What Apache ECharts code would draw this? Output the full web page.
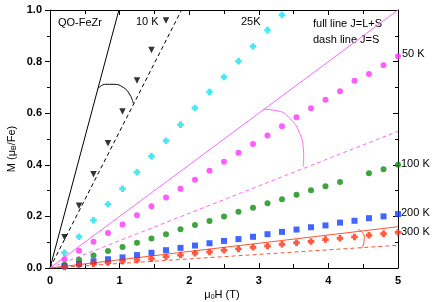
<!DOCTYPE html>
<html><head><meta charset="utf-8">
<script src="https://cdn.jsdelivr.net/npm/echarts@6/dist/echarts.min.js"></script>
<style>html,body{margin:0;padding:0;background:#fff}#c{width:436px;height:302px}</style>
</head><body><div id="c"></div>
<script>
// Field values (T)
var fields = [0.208, 0.417, 0.625, 0.833, 1.042, 1.25, 1.458, 1.667, 1.875, 2.083, 2.292, 2.5,
              2.708, 2.917, 3.125, 3.333, 3.542, 3.75, 3.958, 4.167, 4.375, 4.583, 4.792, 5.0];
// Magnetization (muB/Fe)
var m10K  = [0.119, 0.241, 0.363, 0.484, 0.607, 0.727, 0.845, 0.959];
var m25K  = [0.059, 0.121, 0.185, 0.247, 0.307, 0.371, 0.433, 0.493, 0.555, 0.620, 0.682, 0.740,
             0.801, 0.859, 0.922, 0.981];
var m50K  = [0.034, 0.067, 0.102, 0.136, 0.169, 0.204, 0.239, 0.273, 0.307, 0.342, 0.377, 0.412,
             0.447, 0.481, 0.514, 0.549, 0.584, 0.619, 0.652, 0.685, 0.726, 0.752, 0.786, 0.821];
var m100K = [0.012, 0.032, 0.048, 0.066, 0.081, 0.098, 0.114, 0.131, 0.150, 0.167, 0.182, 0.200,
             0.218, 0.234, 0.251, 0.266, 0.284, 0.301, 0.317, 0.333, null, 0.367, 0.383, 0.400];
var m200K = [0.007, 0.016, 0.026, 0.034, 0.041, 0.050, 0.059, 0.069, 0.078, 0.087, 0.096, 0.105,
             0.112, 0.121, 0.131, 0.140, 0.149, 0.158, 0.165, 0.176, 0.183, 0.193, 0.200, 0.209];
var m300K = [0.004, 0.012, 0.016, 0.021, 0.026, 0.031, 0.036, 0.044, 0.050, 0.057, 0.062, 0.069,
             0.074, 0.080, 0.085, 0.092, 0.098, 0.103, 0.110, 0.115, 0.120, 0.127, 0.133, 0.138];
// Reference lines (endpoints in data units)
var line10Full = [[0, 0], [0.99, 1.0]];
var line10Dash = [[0, 0], [1.89, 1.0]];
var line50Full = [[0, 0], [5.0, 1.0]];
var line50Dash = [[0, 0], [5.0, 0.53]];
var line300Full = [[0, 0], [5.0, 0.16]];
var line300Dash = [[0, 0], [5.0, 0.088]];
// Angle arcs
var arc10  = [[0.694, 0.697], [0.80, 0.712], [0.909, 0.712], [1.053, 0.700], [1.149, 0.671], [1.197, 0.638]];
var arc50  = [[3.06, 0.615], [3.276, 0.609], [3.467, 0.574], [3.587, 0.522], [3.64, 0.46], [3.645, 0.42], [3.635, 0.393]];
var arc300 = [[4.425, 0.150], [4.49, 0.137], [4.515, 0.118], [4.51, 0.097], [4.473, 0.076]];
// Axis ticks
var xTicks = [0, 1, 2, 3, 4, 5];
var yTicks = [0.0, 0.2, 0.4, 0.6, 0.8, 1.0];

function pts(v) {
  var out = [];
  for (var i = 0; i < v.length; i++) if (v[i] !== null) out.push([fields[i], v[i]]);
  return out;
}
var FONT = 'Liberation Sans, Arial, Helvetica, sans-serif';
var plus = 'path://M2.2,0h3.6v2.2h2.2v3.6h-2.2v2.2h-3.6v-2.2h-2.2v-3.6h2.2z';

function scat(name, data, color, symbol, size, rot) {
  return {name: name, type: 'scatter', data: data, symbol: symbol, symbolSize: size,
          symbolRotate: rot || 0, itemStyle: {color: color}, z: 5};
}
function ln(data, color, dashed, smooth) {
  return {type: 'line', data: data, showSymbol: false, symbol: 'none', smooth: !!smooth,
          lineStyle: {color: color, width: 1, type: dashed ? [4, 3] : 'solid'}, z: 3, silent: true};
}

var chart = echarts.init(document.getElementById('c'), null, {renderer: 'canvas'});
var axisBase = {
  type: 'value', axisLine: {show: true, onZero: false, lineStyle: {color: '#000', width: 1}},
  splitLine: {show: false}
};
chart.setOption({
  animation: false,
  grid: {left: 50, right: 38, top: 10, bottom: 34},
  xAxis: [
    Object.assign({}, axisBase, {position: 'bottom', min: xTicks[0], max: xTicks[xTicks.length - 1], interval: 1,
      axisTick: {show: true, inside: true, length: 5, lineStyle: {color: '#000'}},
      minorTick: {show: true, splitNumber: 2, length: 4, lineStyle: {color: '#000'}},
      axisLabel: {color: '#000', fontWeight: 'bold', fontSize: 11, fontFamily: FONT, margin: 7}}),
    Object.assign({}, axisBase, {position: 'top', min: 0, max: 5, interval: 1,
      axisTick: {show: true, inside: true, length: 5, lineStyle: {color: '#000'}},
      minorTick: {show: true, splitNumber: 2, length: 4, lineStyle: {color: '#000'}},
      axisLabel: {show: false}})
  ],
  yAxis: [
    Object.assign({}, axisBase, {position: 'left', min: yTicks[0], max: yTicks[yTicks.length - 1], interval: 0.2,
      axisTick: {show: true, inside: false, length: 5, lineStyle: {color: '#000'}},
      minorTick: {show: true, splitNumber: 2, length: 3, lineStyle: {color: '#000'}},
      axisLabel: {color: '#000', fontWeight: 'bold', fontSize: 11, fontFamily: FONT, margin: 8,
        formatter: function (v) { return v.toFixed(1); }}}),
    Object.assign({}, axisBase, {position: 'right', min: 0, max: 1, interval: 0.2,
      axisTick: {show: true, inside: true, length: 5, lineStyle: {color: '#000'}},
      minorTick: {show: true, splitNumber: 2, length: 3, lineStyle: {color: '#000'}},
      axisLabel: {show: false}})
  ],
  series: [
    ln(line10Full, '#000', false), ln(line10Dash, '#000', true), ln(arc10, '#000', false, true),
    ln(line50Full, '#FF66FF', false), ln(line50Dash, '#FF66FF', true), ln(arc50, '#FF66FF', false, true),
    ln(line300Full, '#FF5535', false), ln(line300Dash, '#FF5535', true), ln(arc300, '#FF5535', false, true),
    scat('10 K', pts(m10K), '#000', 'triangle', 6.5, 180),
    scat('25K', pts(m25K), '#18E4F0', plus, 6.5),
    scat('50 K', pts(m50K), '#FF33FF', 'circle', 6),
    scat('100 K', pts(m100K), '#0E8E0E', 'circle', 6),
    scat('200 K', pts(m200K), '#1040FF', 'rect', 6),
    scat('300 K', pts(m300K), '#FF3010', plus, 6.5)
  ],
  graphic: [
    {type: 'text', left: 58, top: 17, style: {text: 'QO-FeZr', font: '11px ' + FONT, fill: '#000'}},
    {type: 'text', left: 136, top: 16, style: {text: '10 K', font: '11px ' + FONT, fill: '#000'}},
    {type: 'text', left: 241, top: 16, style: {text: '25K', font: '11px ' + FONT, fill: '#000'}},
    {type: 'text', left: 313, top: 18, style: {text: 'full line J=L+S', font: '11px ' + FONT, fill: '#000'}},
    {type: 'text', left: 313, top: 34, style: {text: 'dash line J=S', font: '11px ' + FONT, fill: '#000'}},
    {type: 'text', left: 402, top: 48, style: {text: '50 K', font: '11px ' + FONT, fill: '#000'}},
    {type: 'text', left: 401, top: 158, style: {text: '100 K', font: '11px ' + FONT, fill: '#000'}},
    {type: 'text', left: 401, top: 207, style: {text: '200 K', font: '11px ' + FONT, fill: '#000'}},
    {type: 'text', left: 401, top: 226, style: {text: '300 K', font: '11px ' + FONT, fill: '#000'}},
    {type: 'text', x: 12, y: 149, rotation: Math.PI / 2,
      style: {text: '{a|M (μ}{s|B}{a|/Fe)}', align: 'center', verticalAlign: 'middle',
        rich: {a: {fontSize: 11, fontFamily: FONT, fill: '#000'},
               s: {fontSize: 7, fontFamily: FONT, fill: '#000', verticalAlign: 'bottom', padding: [5, 0, 0, 0]}}}},
    {type: 'text', x: 222, y: 295,
      style: {text: '{a|μ}{s|0}{a|H (T)}', align: 'center', verticalAlign: 'middle',
        rich: {a: {fontSize: 11, fontFamily: FONT, fill: '#000'},
               s: {fontSize: 7, fontFamily: FONT, fill: '#000', verticalAlign: 'bottom', padding: [5, 0, 0, 0]}}}}
  ]
});
</script></body></html>
